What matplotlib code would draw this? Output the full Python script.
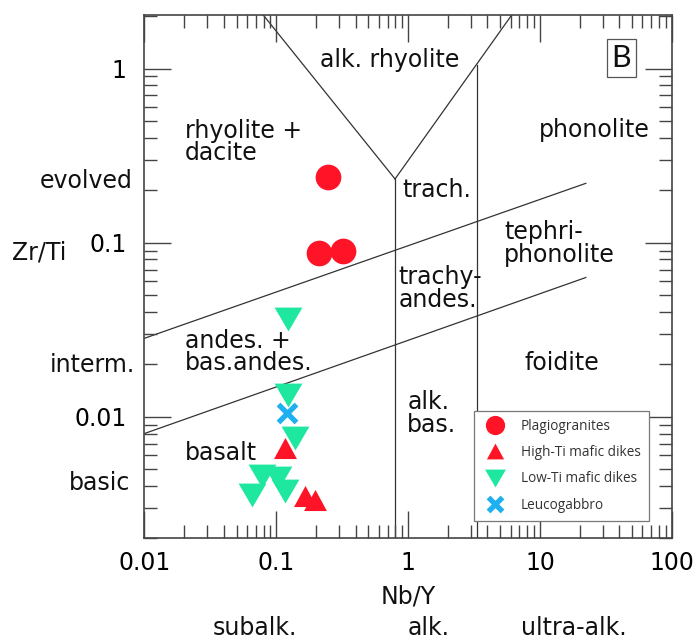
import matplotlib
matplotlib.use("Agg")
import matplotlib.pyplot as plt
from matplotlib.ticker import LogLocator, NullFormatter, FixedLocator, FixedFormatter

plt.rcParams['font.family'] = ['DejaVu Sans']

# ---------------- data ----------------
plag_x = [0.248, 0.212, 0.321]
plag_y = [0.2375, 0.0871, 0.0898]

hiti_x = [0.1165, 0.165, 0.197]
hiti_y = [0.00660, 0.00348, 0.00333]

loti_x = [0.1234, 0.1234, 0.1387, 0.0775, 0.1025, 0.065, 0.1164]
loti_y = [0.0363, 0.0134, 0.00755, 0.00454, 0.00444, 0.00356, 0.00372]

leuco_x = [0.120]
leuco_y = [0.0105]

# field boundaries (Nb/Y, Zr/Ti)
vleft_x, vleft_y = [0.0796, 0.796], [2.03, 0.232]
vright_x, vright_y = [0.796, 6.11], [0.232, 2.03]
vert1_x, vert1_y = [0.796, 0.796], [0.232, 0.002]
vert2_x, vert2_y = [3.31, 3.31], [1.05, 0.002]
upper_x, upper_y = [0.01, 22.3], [0.0282, 0.219]
lower_x, lower_y = [0.01, 22.3], [0.0080, 0.063]

xticks = [0.01, 0.1, 1, 10, 100]
xtick_labels = ['0.01', '0.1', '1', '10', '100']
yticks = [0.01, 0.1, 1]
ytick_labels = ['0.01', '0.1', '1']

RED = '#FF1427'
GREEN = '#1EE8A0'
BLUE = '#1EB0F0'

# ---------------- figure ----------------
fig = plt.figure(figsize=(6.95, 6.41), dpi=100)
ax = fig.add_axes([0.2079, 0.1602, 0.7586, 0.8164])
ax.set_xscale('log')
ax.set_yscale('log')
ax.set_xlim(0.01, 100)
ax.set_ylim(0.002, 2.03)

lc = '#333333'
lw = 0.9
for xs, ys in [(vleft_x, vleft_y), (vright_x, vright_y), (vert1_x, vert1_y),
               (vert2_x, vert2_y), (upper_x, upper_y), (lower_x, lower_y)]:
    ax.plot(xs, ys, color=lc, lw=lw, zorder=1)

tri_down = [(-1, 0.857), (1, 0.857), (0, -0.857)]
tri_up = [(-1, -0.92), (1, -0.92), (0, 0.92)]

ax.plot(plag_x, plag_y, ls='none', marker='o', ms=18.5, mew=0, color=RED,
        label='Plagiogranites', zorder=3)
ax.plot(hiti_x, hiti_y, ls='none', marker=tri_up, ms=16.5, mew=0, color=RED,
        label='High-Ti mafic dikes', zorder=3)
ax.plot(loti_x, loti_y, ls='none', marker=tri_down, ms=20, mew=0, color=GREEN,
        label='Low-Ti mafic dikes', zorder=3)
ax.plot(leuco_x, leuco_y, ls='none', marker='x', ms=13, mew=3.8, color=BLUE,
        label='Leucogabbro', zorder=4)

# ticks
ax.xaxis.set_major_locator(FixedLocator(xticks))
ax.xaxis.set_major_formatter(FixedFormatter(xtick_labels))
ax.yaxis.set_major_locator(FixedLocator(yticks))
ax.yaxis.set_major_formatter(FixedFormatter(ytick_labels))
ax.xaxis.set_minor_locator(LogLocator(base=10, subs=range(2, 10), numticks=20))
ax.yaxis.set_minor_locator(LogLocator(base=10, subs=range(2, 10), numticks=20))
ax.xaxis.set_minor_formatter(NullFormatter())
ax.yaxis.set_minor_formatter(NullFormatter())

fs = 17
ax.tick_params(which='both', direction='in', top=True, right=True, color='#444444', width=1.0)
ax.tick_params(which='major', length=19.5)
ax.tick_params(which='minor', length=9.5)
ax.tick_params(axis='x', which='major', labelsize=fs, pad=9.0)
ax.tick_params(axis='y', which='major', labelsize=fs, pad=13)
for s in ax.spines.values():
    s.set_color('#444444')
    s.set_linewidth(1.2)

tc = '#111111'
def atext(x, y, s, ha='left'):
    # y is the baseline of the last line
    ax.text(x, y, s, transform=ax.transAxes, ha=ha, va='baseline', fontsize=fs,
            color=tc, linespacing=0.92)

ax.text(0.4657, 0.914, 'alk. rhyolite', transform=ax.transAxes, ha='center', va='center',
        fontsize=fs, color=tc)
atext(0.0768, 0.7229, 'rhyolite +\ndacite')
atext(0.8536, 0.7674, 'phonolite', ha='center')
atext(0.4898, 0.6528, 'trach.')
atext(0.6819, 0.5286, 'tephri-\nphonolite')
atext(0.4814, 0.4426, 'trachy-\nandes.')
atext(0.0768, 0.3216, 'andes. +\nbas.andes.')
atext(0.7919, 0.3216, 'foidite', ha='center')
atext(0.4985, 0.2037, 'alk.\nbas.')
atext(0.0768, 0.1496, 'basalt')

ax.text(0.9048, 0.9178, 'B', transform=ax.transAxes, ha='center', va='center',
        fontsize=22, family=['Lato', 'DejaVu Sans'], color=tc,
        bbox=dict(boxstyle='square,pad=0.16', fc='white', ec='#555555', lw=0.9))

def ftext(x, y, s, ha='left'):
    fig.text(x, y, s, ha=ha, va='baseline', fontsize=fs, color=tc)

ftext(0.1914, 0.7062, 'evolved', ha='right')
ftext(0.0173, 0.5944, 'Zr/Ti')
ftext(0.1942, 0.4201, 'interm.', ha='right')
ftext(0.1871, 0.2356, 'basic', ha='right')
ftext(0.587, 0.0588, 'Nb/Y', ha='center')
ftext(0.3669, 0.0094, 'subalk.', ha='center')
ftext(0.6173, 0.0094, 'alk.', ha='center')
ftext(0.8259, 0.0094, 'ultra-alk.', ha='center')

leg = ax.legend(loc='upper left', bbox_to_anchor=(0.625, 0.2438), markerscale=0.75,
                prop={'family': ['Open Sans', 'DejaVu Sans'], 'size': 9.8},
                frameon=True, fancybox=False, framealpha=1, edgecolor='#777777',
                labelspacing=0.83, borderpad=0.6, handletextpad=0.93, handlelength=1.9,
                borderaxespad=0)
leg.get_frame().set_linewidth(0.9)
for t in leg.get_texts():
    t.set_color('#333333')

fig.savefig('out.png', dpi=100)
